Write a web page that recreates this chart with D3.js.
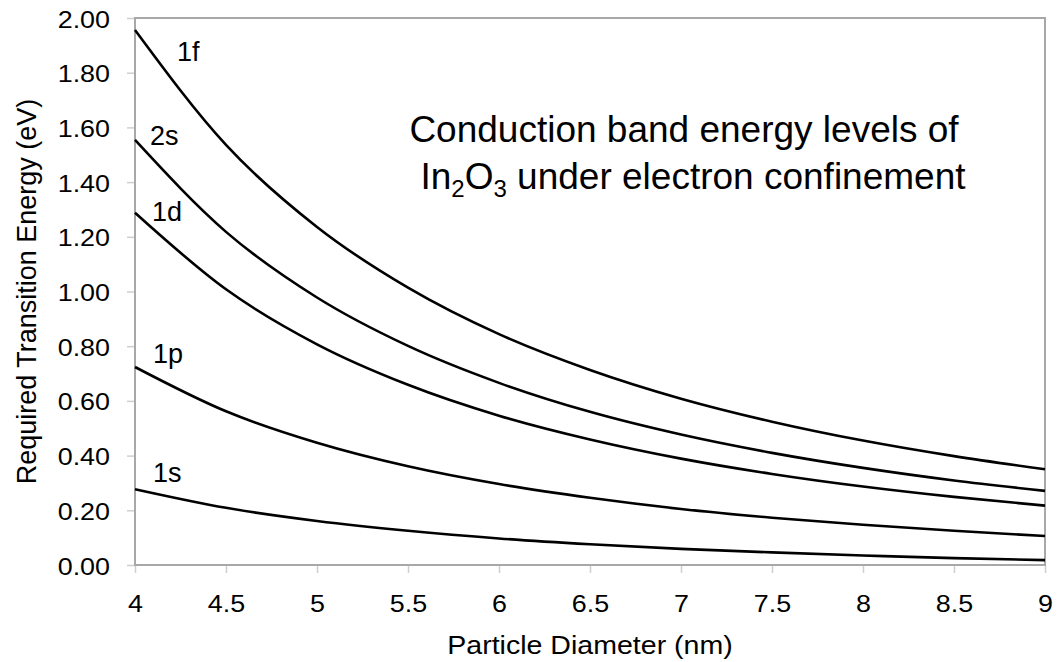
<!DOCTYPE html>
<html>
<head>
<meta charset="utf-8">
<script src="https://cdn.jsdelivr.net/npm/d3@7"></script>
<style>
  body { margin: 0; background: #fff; }
  text { font-family: "Liberation Sans", Arial, Helvetica, sans-serif; fill: #000; }
</style>
</head>
<body>
<svg id="chart" width="1062" height="662"></svg>
<script>
// Particle diameter (nm) at which each level is tabulated
const diameters = [4, 4.5, 5, 5.5, 6, 6.5, 7, 7.5, 8, 8.5, 9];

// Required transition energy (eV) for each confined level
const level1s = [0.277, 0.209, 0.161, 0.125, 0.097, 0.076, 0.059, 0.046, 0.035, 0.025, 0.018];
const level1p = [0.724, 0.562, 0.447, 0.361, 0.296, 0.246, 0.205, 0.173, 0.147, 0.125, 0.106];
const level1d = [1.288, 1.008, 0.807, 0.659, 0.546, 0.459, 0.389, 0.333, 0.287, 0.249, 0.217];
const level2s = [1.554, 1.218, 0.978, 0.801, 0.666, 0.560, 0.477, 0.410, 0.355, 0.309, 0.271];
const level1f = [1.956, 1.536, 1.236, 1.014, 0.844, 0.713, 0.608, 0.524, 0.455, 0.398, 0.350];

const levelNames = ["1s", "1p", "1d", "2s", "1f"];
const levelSeries = [level1s, level1p, level1d, level2s, level1f];

const xTickValues = [4, 4.5, 5, 5.5, 6, 6.5, 7, 7.5, 8, 8.5, 9];
const yTickValues = [0, 0.2, 0.4, 0.6, 0.8, 1.0, 1.2, 1.4, 1.6, 1.8, 2.0];

const xTitle = "Particle Diameter (nm)";
const yTitle = "Required Transition Energy (eV)";

// ---- layout ----
const W = 1062, H = 662;
const plot = { left: 135, top: 18, right: 1045, bottom: 565 };
const tickFont = 24, tickStretch = 1.12;

// label placement relative to the start of each curve (pixels)
const labelOffset = {
  "1s": [18, -7],
  "1p": [18, -4],
  "1d": [17, 8],
  "2s": [15, 5],
  "1f": [42, 31]
};

const svg = d3.select("#chart");

const x = d3.scaleLinear().domain([4, 9]).range([plot.left, plot.right]);
const y = d3.scaleLinear().domain([0, 2]).range([plot.bottom, plot.top]);

// ---- axes ----
const yAxis = svg.append("g")
  .attr("transform", `translate(${plot.left},0)`)
  .call(d3.axisLeft(y).tickValues(yTickValues).tickSize(8).tickFormat(d3.format(".2f")));

const xAxis = svg.append("g")
  .attr("transform", `translate(0,${plot.bottom})`)
  .call(d3.axisBottom(x).tickValues(xTickValues).tickSize(8).tickFormat(d => String(d)));

[yAxis, xAxis].forEach(g => {
  g.select(".domain").remove();
  g.selectAll(".tick line").attr("stroke", "#cfcfcf").attr("stroke-width", 1.5);
  g.selectAll(".tick text")
    .attr("font-size", tickFont)
    .attr("font-family", '"Liberation Sans", Arial, sans-serif')
    .attr("fill", "#000");
});

yAxis.selectAll(".tick text")
  .attr("x", -25 / tickStretch)
  .attr("dy", 9)
  .attr("transform", `scale(${tickStretch},1)`);

xAxis.selectAll(".tick text")
  .attr("y", 47)
  .attr("dy", 0)
  .attr("transform", `scale(${tickStretch},1)`);

// ---- plot frame ----
svg.append("rect")
  .attr("x", plot.left).attr("y", plot.top)
  .attr("width", plot.right - plot.left).attr("height", plot.bottom - plot.top)
  .attr("fill", "none").attr("stroke", "#a8a8a8").attr("stroke-width", 2);

// ---- curves ----
const line = d3.line()
  .x((d, i) => x(diameters[i]))
  .y(d => y(d))
  .curve(d3.curveMonotoneX);

svg.append("g").selectAll("path")
  .data(levelSeries)
  .join("path")
  .attr("d", line)
  .attr("fill", "none")
  .attr("stroke", "#000")
  .attr("stroke-width", 2.6);

// ---- level labels ----
svg.append("g").selectAll("text")
  .data(levelNames)
  .join("text")
  .attr("x", (d, i) => x(diameters[0]) + labelOffset[d][0])
  .attr("y", (d, i) => y(levelSeries[i][0]) + labelOffset[d][1])
  .attr("font-size", 27)
  .text(d => d);

// ---- axis titles ----
svg.append("text")
  .attr("transform", `translate(${(plot.left + plot.right) / 2},654) scale(${tickStretch},1)`)
  .attr("text-anchor", "middle")
  .attr("font-size", 25.5)
  .text(xTitle);

svg.append("text")
  .attr("transform", `translate(36,${(plot.top + plot.bottom) / 2}) rotate(-90)`)
  .attr("text-anchor", "middle")
  .attr("font-size", 27)
  .text(yTitle);

// ---- annotation ----
const note = svg.append("g").attr("font-size", 37);
note.append("text")
  .attr("x", 684).attr("y", 142)
  .attr("text-anchor", "middle")
  .text("Conduction band energy levels of");

const line2 = note.append("text")
  .attr("x", 693).attr("y", 189)
  .attr("text-anchor", "middle");
line2.append("tspan").text("In");
line2.append("tspan").attr("font-size", 24).attr("dy", 8).text("2");
line2.append("tspan").attr("dy", -8).text("O");
line2.append("tspan").attr("font-size", 24).attr("dy", 8).text("3");
line2.append("tspan").attr("dy", -8).text(" under electron confinement");
</script>
</body>
</html>
